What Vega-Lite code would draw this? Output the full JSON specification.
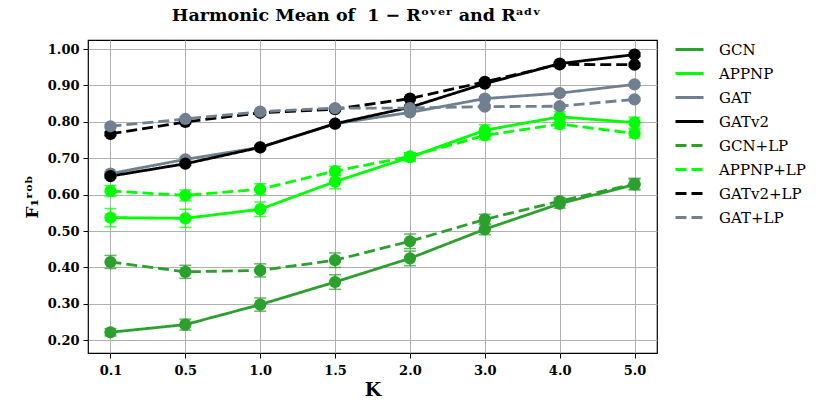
{
  "$schema": "https://vega.github.io/schema/vega-lite/v6.json",
  "width": 569,
  "height": 313,
  "autosize": {"type": "none"},
  "padding": {"left": 88, "top": 40, "right": 166, "bottom": 47},
  "background": "white",
  "title": {
    "text": "Harmonic Mean of \u00a01 − Rᵒᵛᵉʳ and Rᵃᵈᵛ",
    "font": "DejaVu Serif",
    "fontSize": 17.5,
    "fontWeight": "bold",
    "anchor": "middle",
    "dx": -16,
    "offset": 10,
    "color": "black"
  },
  "config": {
    "view": {"stroke": "black", "strokeWidth": 1.2},
    "axis": {
      "labelFont": "DejaVu Serif",
      "labelFontWeight": "bold",
      "labelFontSize": 13,
      "labelColor": "black",
      "titleFont": "DejaVu Serif",
      "titleColor": "black",
      "titleFontWeight": "bold",
      "gridColor": "#b0b0b0",
      "gridWidth": 1,
      "tickColor": "black",
      "tickSize": 5,
      "domain": false
    },
    "legend": {
      "labelFont": "DejaVu Serif",
      "labelFontSize": 15,
      "labelColor": "black"
    }
  },
  "data": {
    "values": [
      {"K": "0.1", "series": "GCN", "v": 0.222, "lo": 0.212, "hi": 0.232},
      {"K": "0.5", "series": "GCN", "v": 0.243, "lo": 0.228, "hi": 0.258},
      {"K": "1.0", "series": "GCN", "v": 0.298, "lo": 0.280, "hi": 0.316},
      {"K": "1.5", "series": "GCN", "v": 0.360, "lo": 0.340, "hi": 0.380},
      {"K": "2.0", "series": "GCN", "v": 0.425, "lo": 0.405, "hi": 0.445},
      {"K": "3.0", "series": "GCN", "v": 0.505, "lo": 0.490, "hi": 0.520},
      {"K": "4.0", "series": "GCN", "v": 0.575, "lo": 0.563, "hi": 0.587},
      {"K": "5.0", "series": "GCN", "v": 0.628, "lo": 0.613, "hi": 0.643},

      {"K": "0.1", "series": "APPNP", "v": 0.537, "lo": 0.512, "hi": 0.562},
      {"K": "0.5", "series": "APPNP", "v": 0.535, "lo": 0.510, "hi": 0.560},
      {"K": "1.0", "series": "APPNP", "v": 0.560, "lo": 0.540, "hi": 0.580},
      {"K": "1.5", "series": "APPNP", "v": 0.636, "lo": 0.616, "hi": 0.656},
      {"K": "2.0", "series": "APPNP", "v": 0.703, "lo": 0.691, "hi": 0.715},
      {"K": "3.0", "series": "APPNP", "v": 0.777, "lo": 0.762, "hi": 0.792},
      {"K": "4.0", "series": "APPNP", "v": 0.814, "lo": 0.800, "hi": 0.828},
      {"K": "5.0", "series": "APPNP", "v": 0.798, "lo": 0.783, "hi": 0.813},

      {"K": "0.1", "series": "GAT", "v": 0.658, "lo": 0.653, "hi": 0.663},
      {"K": "0.5", "series": "GAT", "v": 0.697, "lo": 0.692, "hi": 0.702},
      {"K": "1.0", "series": "GAT", "v": 0.730, "lo": 0.725, "hi": 0.735},
      {"K": "1.5", "series": "GAT", "v": 0.795, "lo": 0.790, "hi": 0.800},
      {"K": "2.0", "series": "GAT", "v": 0.826, "lo": 0.821, "hi": 0.831},
      {"K": "3.0", "series": "GAT", "v": 0.864, "lo": 0.859, "hi": 0.869},
      {"K": "4.0", "series": "GAT", "v": 0.879, "lo": 0.874, "hi": 0.884},
      {"K": "5.0", "series": "GAT", "v": 0.903, "lo": 0.898, "hi": 0.908},

      {"K": "0.1", "series": "GATv2", "v": 0.651, "lo": 0.646, "hi": 0.656},
      {"K": "0.5", "series": "GATv2", "v": 0.685, "lo": 0.680, "hi": 0.690},
      {"K": "1.0", "series": "GATv2", "v": 0.730, "lo": 0.725, "hi": 0.735},
      {"K": "1.5", "series": "GATv2", "v": 0.795, "lo": 0.790, "hi": 0.800},
      {"K": "2.0", "series": "GATv2", "v": 0.840, "lo": 0.835, "hi": 0.845},
      {"K": "3.0", "series": "GATv2", "v": 0.905, "lo": 0.900, "hi": 0.910},
      {"K": "4.0", "series": "GATv2", "v": 0.960, "lo": 0.955, "hi": 0.965},
      {"K": "5.0", "series": "GATv2", "v": 0.985, "lo": 0.980, "hi": 0.990},

      {"K": "0.1", "series": "GCN+LP", "v": 0.415, "lo": 0.397, "hi": 0.433},
      {"K": "0.5", "series": "GCN+LP", "v": 0.388, "lo": 0.370, "hi": 0.406},
      {"K": "1.0", "series": "GCN+LP", "v": 0.392, "lo": 0.374, "hi": 0.410},
      {"K": "1.5", "series": "GCN+LP", "v": 0.420, "lo": 0.400, "hi": 0.440},
      {"K": "2.0", "series": "GCN+LP", "v": 0.472, "lo": 0.452, "hi": 0.492},
      {"K": "3.0", "series": "GCN+LP", "v": 0.532, "lo": 0.518, "hi": 0.546},
      {"K": "4.0", "series": "GCN+LP", "v": 0.582, "lo": 0.572, "hi": 0.592},
      {"K": "5.0", "series": "GCN+LP", "v": 0.630, "lo": 0.615, "hi": 0.645},

      {"K": "0.1", "series": "APPNP+LP", "v": 0.610, "lo": 0.595, "hi": 0.625},
      {"K": "0.5", "series": "APPNP+LP", "v": 0.598, "lo": 0.583, "hi": 0.613},
      {"K": "1.0", "series": "APPNP+LP", "v": 0.615, "lo": 0.600, "hi": 0.630},
      {"K": "1.5", "series": "APPNP+LP", "v": 0.665, "lo": 0.652, "hi": 0.678},
      {"K": "2.0", "series": "APPNP+LP", "v": 0.705, "lo": 0.695, "hi": 0.715},
      {"K": "3.0", "series": "APPNP+LP", "v": 0.763, "lo": 0.751, "hi": 0.775},
      {"K": "4.0", "series": "APPNP+LP", "v": 0.794, "lo": 0.782, "hi": 0.806},
      {"K": "5.0", "series": "APPNP+LP", "v": 0.768, "lo": 0.756, "hi": 0.780},

      {"K": "0.1", "series": "GATv2+LP", "v": 0.767, "lo": 0.762, "hi": 0.772},
      {"K": "0.5", "series": "GATv2+LP", "v": 0.800, "lo": 0.795, "hi": 0.805},
      {"K": "1.0", "series": "GATv2+LP", "v": 0.825, "lo": 0.820, "hi": 0.830},
      {"K": "1.5", "series": "GATv2+LP", "v": 0.835, "lo": 0.830, "hi": 0.840},
      {"K": "2.0", "series": "GATv2+LP", "v": 0.864, "lo": 0.859, "hi": 0.869},
      {"K": "3.0", "series": "GATv2+LP", "v": 0.910, "lo": 0.905, "hi": 0.915},
      {"K": "4.0", "series": "GATv2+LP", "v": 0.958, "lo": 0.953, "hi": 0.963},
      {"K": "5.0", "series": "GATv2+LP", "v": 0.957, "lo": 0.952, "hi": 0.962},

      {"K": "0.1", "series": "GAT+LP", "v": 0.788, "lo": 0.783, "hi": 0.793},
      {"K": "0.5", "series": "GAT+LP", "v": 0.808, "lo": 0.803, "hi": 0.813},
      {"K": "1.0", "series": "GAT+LP", "v": 0.828, "lo": 0.823, "hi": 0.833},
      {"K": "1.5", "series": "GAT+LP", "v": 0.838, "lo": 0.833, "hi": 0.843},
      {"K": "2.0", "series": "GAT+LP", "v": 0.838, "lo": 0.833, "hi": 0.843},
      {"K": "3.0", "series": "GAT+LP", "v": 0.842, "lo": 0.837, "hi": 0.847},
      {"K": "4.0", "series": "GAT+LP", "v": 0.843, "lo": 0.838, "hi": 0.848},
      {"K": "5.0", "series": "GAT+LP", "v": 0.862, "lo": 0.857, "hi": 0.867}
    ]
  },
  "encoding": {
    "x": {
      "field": "K",
      "type": "ordinal",
      "sort": ["0.1", "0.5", "1.0", "1.5", "2.0", "3.0", "4.0", "5.0"],
      "scale": {"type": "point", "padding": 0.3},
      "axis": {"title": "K", "titleFontSize": 19, "labelAngle": 0, "grid": true, "labelPadding": 6, "titlePadding": 3}
    },
    "color": {
      "field": "series",
      "type": "nominal",
      "scale": {
        "domain": ["GCN", "APPNP", "GAT", "GATv2", "GCN+LP", "APPNP+LP", "GATv2+LP", "GAT+LP"],
        "range": ["#2ca02c", "#00ff00", "#708090", "#000000", "#2ca02c", "#00ff00", "#000000", "#708090"]
      },
      "legend": {
        "title": null,
        "orient": "none",
        "legendX": 586,
        "legendY": -6,
        "symbolType": "stroke",
        "symbolSize": 784,
        "symbolStrokeWidth": 3,
        "rowPadding": 0,
        "labelOffset": 14,
        "labelFont": "DejaVu Serif",
        "labelFontSize": 15,
        "labelColor": "black",
        "encode": {
          "labels": {
            "update": {
              "font": {"value": "DejaVu Serif"},
              "fontSize": {"value": 15},
              "fill": {"value": "black"}
            }
          }
        }
      }
    }
  },
  "layer": [
    {
      "mark": {"type": "line", "strokeWidth": 2.8},
      "encoding": {
        "y": {
          "field": "v",
          "type": "quantitative",
          "scale": {"domain": [0.165, 1.025], "nice": false, "zero": false},
          "axis": {
            "title": "F₁ʳᵒᵇ",
            "titleFontSize": 17,
            "values": [0.2, 0.3, 0.4, 0.5, 0.6, 0.7, 0.8, 0.9, 1.0],
            "tickCount": 9,
            "format": ".2f",
            "grid": true,
            "labelPadding": 4,
            "titlePadding": 6
          }
        },
        "strokeDash": {
          "field": "series",
          "type": "nominal",
          "scale": {
            "domain": ["GCN", "APPNP", "GAT", "GATv2", "GCN+LP", "APPNP+LP", "GATv2+LP", "GAT+LP"],
            "range": [[1, 0], [1, 0], [1, 0], [1, 0], [11, 5], [11, 5], [11, 5], [11, 5]]
          },
          "legend": {
            "title": null,
            "labelFont": "DejaVu Serif",
            "labelFontSize": 15,
            "labelColor": "black"
          }
        }
      }
    },
    {
      "mark": {"type": "errorbar", "ticks": {"size": 12}, "thickness": 1.5, "opacity": 0.75},
      "encoding": {
        "y": {
          "field": "lo",
          "type": "quantitative",
          "axis": {
            "title": "F₁ʳᵒᵇ",
            "titleFontSize": 17,
            "values": [0.2, 0.3, 0.4, 0.5, 0.6, 0.7, 0.8, 0.9, 1.0],
            "tickCount": 9,
            "format": ".2f",
            "grid": true,
            "labelPadding": 4,
            "titlePadding": 6
          }
        },
        "y2": {"field": "hi"}
      }
    },
    {
      "mark": {"type": "point", "filled": true, "size": 150, "opacity": 1},
      "encoding": {
        "y": {"field": "v", "type": "quantitative", "title": "F₁ʳᵒᵇ"}
      }
    }
  ]
}
